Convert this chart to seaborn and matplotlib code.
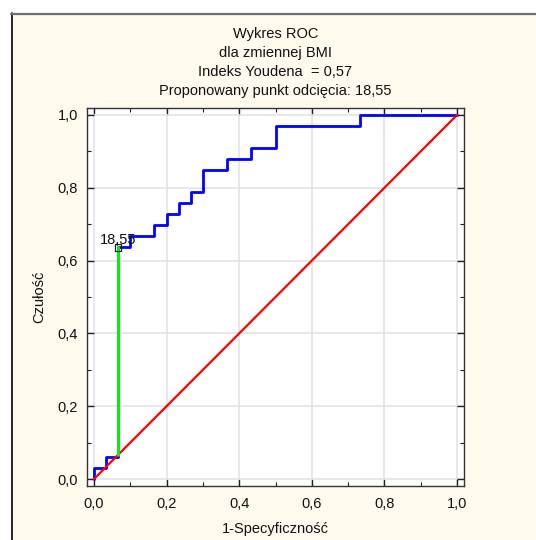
import numpy as np
import pandas as pd
import matplotlib
matplotlib.use("Agg")
import matplotlib.pyplot as plt
import seaborn as sns
from matplotlib.patches import Rectangle
from matplotlib.lines import Line2D
from matplotlib.ticker import FuncFormatter, MultipleLocator

# ---- data ----
n_neg = 30
n_pos = 33
fp_counts = [0, 0, 1, 1, 2, 2, 3, 3, 5, 5, 6, 6, 7, 7, 8, 8, 9, 9, 11, 11, 13, 13, 15, 15, 22, 22, 30]
tp_counts = [0, 1, 1, 2, 2, 21, 21, 22, 22, 23, 23, 24, 24, 25, 25, 26, 26, 28, 28, 29, 29, 30, 30, 32, 32, 33, 33]
diag_x = [0.0, 1.0]
diag_y = [0.0, 1.0]
cut_fp = 2
cut_tp = 21
cut_label = "18,55"
title_lines = ["Wykres ROC", "dla zmiennej BMI", "Indeks Youdena  = 0,57",
               "Proponowany punkt odcięcia: 18,55"]
xlabel = "1-Specyficzność"
ylabel = "Czułość"

roc = pd.DataFrame({"fpr": np.array(fp_counts) / n_neg,
                    "tpr": np.array(tp_counts) / n_pos})
diag = pd.DataFrame({"x": diag_x, "y": diag_y})
cx, cy = cut_fp / n_neg, cut_tp / n_pos
youden = pd.DataFrame({"x": [cx, cx], "y": [cx, cy]})
pt = pd.DataFrame({"x": [cx], "y": [cy]})

sns.set_theme(style="white")
plt.rcParams["font.family"] = ["Liberation Sans", "DejaVu Sans"]

W, H = 536, 540
fig = plt.figure(figsize=(W / 100, H / 100), dpi=100, facecolor="white")

# cream frame
fig.add_artist(Rectangle((11 / W, 0), 1, 1 - 13 / H, transform=fig.transFigure,
                         facecolor="#FFFAEE", edgecolor="none", zorder=-10))
fig.add_artist(Line2D([11.5 / W, 11.5 / W], [0, 1 - 13 / H], transform=fig.transFigure,
                      color="black", lw=1.2))
fig.add_artist(Line2D([11 / W, 1], [1 - 13.5 / H, 1 - 13.5 / H], transform=fig.transFigure,
                      color="#707070", lw=1.6))

ax = fig.add_axes([87 / W, 1 - 486 / H, (464 - 87) / W, (486 - 108) / H])
ax.set_facecolor("white")

sns.lineplot(data=roc, x="fpr", y="tpr", sort=False, estimator=None, ax=ax,
             color="#0000FF", lw=2, zorder=3)
sns.lineplot(data=diag, x="x", y="y", sort=False, estimator=None, ax=ax,
             color="#FF0000", lw=1.6, zorder=4)
sns.lineplot(data=youden, x="x", y="y", sort=False, estimator=None, ax=ax,
             color="#00FF00", lw=2, zorder=5)
sns.scatterplot(data=pt, x="x", y="y", ax=ax, marker="s", s=22,
                facecolor="none", edgecolor="#222222", linewidth=0.9, zorder=6)
ax.annotate(cut_label, (cx, cy), xytext=(0, 2.5), textcoords="offset points",
            ha="center", va="baseline", fontsize=10.5, color="#111111", zorder=7)

ax.set_xlim(-0.019, 1.019)
ax.set_ylim(-0.019, 1.019)
ax.xaxis.set_major_locator(MultipleLocator(0.2))
ax.yaxis.set_major_locator(MultipleLocator(0.2))
ax.xaxis.set_minor_locator(MultipleLocator(0.1))
ax.yaxis.set_minor_locator(MultipleLocator(0.1))
fmt = FuncFormatter(lambda v, p: f"{v:.1f}".replace(".", ","))
ax.xaxis.set_major_formatter(fmt)
ax.yaxis.set_major_formatter(fmt)
ax.grid(True, which="major", color="#E4E4E4", lw=1.2, zorder=0)
ax.set_axisbelow(True)
ax.tick_params(which="both", direction="in", top=True, right=True, bottom=True, left=True,
               color="#222222", labelsize=10.5, labelcolor="#111111")
ax.tick_params(which="major", length=5, width=1)
ax.tick_params(which="minor", length=3, width=0.8)
ax.tick_params(axis="x", which="major", pad=8)
ax.tick_params(axis="y", which="major", pad=6.5)
for s in ax.spines.values():
    s.set_color("#333333")
    s.set_linewidth(1)
    s.set_visible(True)

ax.set_xlabel(xlabel, fontsize=10.5, color="#111111", labelpad=8)
ax.set_ylabel(ylabel, fontsize=10.5, color="#111111", labelpad=8)

baselines = [38, 57, 76, 95]
for t, b in zip(title_lines, baselines):
    fig.text(275.5 / W, 1 - b / H, t, ha="center", va="baseline", fontsize=10.5,
             color="#111111")

fig.savefig("out.png", dpi=100, facecolor=fig.get_facecolor())
